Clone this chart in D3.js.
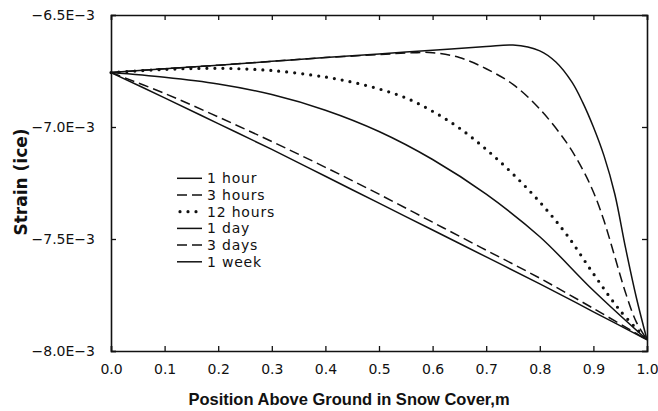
<!DOCTYPE html>
<html>
<head>
<meta charset="utf-8">
<script src="https://cdn.jsdelivr.net/npm/d3@7"></script>
<style>
  body { margin: 0; background: #fff; }
  svg { display: block; }
</style>
</head>
<body>
<div id="chart"></div>
<script>
// ---------- data ----------
const xTicks = [0.0, 0.1, 0.2, 0.3, 0.4, 0.5, 0.6, 0.7, 0.8, 0.9, 1.0];
const xTickLabels = ["0.0","0.1","0.2","0.3","0.4","0.5","0.6","0.7","0.8","0.9","1.0"];
const yTicks = [-6.5e-3, -7.0e-3, -7.5e-3, -8.0e-3];
const yTickLabels = ["\u22126.5E\u22123", "\u22127.0E\u22123", "\u22127.5E\u22123", "\u22128.0E\u22123"];

const seriesNames = ["1 hour", "3 hours", "12 hours", "1 day", "3 days", "1 week"];

const hour1X = [0, 0.1, 0.2, 0.3, 0.4, 0.5, 0.6, 0.7, 0.75, 0.8, 0.83, 0.86, 0.88, 0.9, 0.92, 0.94, 0.96, 0.98, 1.0];
const hour1Y = [-6.757, -6.740, -6.724, -6.707, -6.690, -6.674, -6.657, -6.641, -6.634, -6.660, -6.710, -6.800, -6.890, -7.000, -7.130, -7.300, -7.540, -7.760, -7.950];

const hours3X = [0, 0.1, 0.2, 0.3, 0.4, 0.5, 0.55, 0.6, 0.65, 0.7, 0.75, 0.8, 0.85, 0.88, 0.9, 0.92, 0.94, 0.96, 0.98, 1.0];
const hours3Y = [-6.757, -6.740, -6.724, -6.707, -6.690, -6.677, -6.670, -6.668, -6.690, -6.740, -6.810, -6.920, -7.070, -7.190, -7.290, -7.420, -7.580, -7.740, -7.870, -7.950];

const hours12X = [0, 0.1, 0.2, 0.3, 0.4, 0.45, 0.5, 0.55, 0.6, 0.65, 0.7, 0.75, 0.8, 0.85, 0.9, 0.95, 1.0];
const hours12Y = [-6.757, -6.743, -6.738, -6.748, -6.777, -6.800, -6.830, -6.870, -6.930, -7.005, -7.100, -7.210, -7.335, -7.480, -7.655, -7.820, -7.950];

const day1X = [0, 0.1, 0.2, 0.3, 0.4, 0.5, 0.6, 0.7, 0.8, 0.9, 1.0];
const day1Y = [-6.757, -6.778, -6.808, -6.855, -6.925, -7.020, -7.145, -7.300, -7.490, -7.730, -7.950];

const days3X = [0, 0.1, 0.2, 0.3, 0.4, 0.5, 0.6, 0.7, 0.8, 0.9, 1.0];
const days3Y = [-6.757, -6.850, -6.955, -7.065, -7.180, -7.300, -7.425, -7.550, -7.675, -7.810, -7.950];

const week1X = [0, 0.1, 0.2, 0.3, 0.4, 0.5, 0.6, 0.7, 0.8, 0.9, 1.0];
const week1Y = [-6.757, -6.870, -6.985, -7.100, -7.220, -7.340, -7.460, -7.580, -7.700, -7.825, -7.950];

// ---------- layout ----------
const W = 658, H = 411;
const margin = { left: 111, right: 11, top: 15, bottom: 60 };
const iw = W - margin.left - margin.right;
const ih = H - margin.top - margin.bottom;

const styles = [
  { dash: null, width: 1.5, cap: "butt" },
  { dash: "10,5", width: 1.5, cap: "butt" },
  { dash: "0,8", width: 3.2, cap: "round" },
  { dash: null, width: 1.5, cap: "butt" },
  { dash: "10,5", width: 1.5, cap: "butt" },
  { dash: null, width: 1.5, cap: "butt" }
];

const seriesX = [hour1X, hours3X, hours12X, day1X, days3X, week1X];
const seriesY = [hour1Y, hours3Y, hours12Y, day1Y, days3Y, week1Y];
const series = seriesNames.map((name, i) => ({
  name,
  style: styles[i],
  points: seriesX[i].map((x, j) => [x, seriesY[i][j] * 1e-3])
}));

const svg = d3.select("#chart").append("svg").attr("width", W).attr("height", H);
const g = svg.append("g").attr("transform", `translate(${margin.left},${margin.top})`);

const x = d3.scaleLinear().domain([0, 1]).range([0, iw]);
const y = d3.scaleLinear().domain([-6.5e-3, -8.0e-3]).range([0, ih]);

const ink = "#111";

// curves
const line = d3.line().x(d => x(d[0])).y(d => y(d[1])).curve(d3.curveCatmullRom.alpha(0.5));
series.forEach(s => {
  g.append("path")
    .datum(s.points)
    .attr("d", line)
    .attr("fill", "none")
    .attr("stroke", ink)
    .attr("stroke-width", s.style.width)
    .attr("stroke-linecap", s.style.cap)
    .attr("stroke-dasharray", s.style.dash);
});

// axes (inward ticks on all four sides)
const tickFont = "DejaVu Sans, sans-serif";
const bottomAxis = d3.axisBottom(x).tickValues(xTicks).tickSize(-5).tickPadding(13)
  .tickFormat((d, i) => xTickLabels[i]);
const topAxis = d3.axisTop(x).tickValues(xTicks).tickSize(-5).tickFormat("");
const leftAxis = d3.axisLeft(y).tickValues(yTicks).tickSize(-5).tickPadding(16)
  .tickFormat((d, i) => yTickLabels[i]);
const rightAxis = d3.axisRight(y).tickValues(yTicks).tickSize(-5).tickFormat("");

function styleAxis(sel) {
  sel.select(".domain").attr("stroke", ink).attr("stroke-width", 1.6);
  sel.selectAll(".tick line").attr("stroke", ink).attr("stroke-width", 1.3);
  sel.selectAll(".tick text").attr("fill", ink)
    .style("font-family", tickFont).style("font-size", "14px");
}

g.append("g").attr("transform", `translate(0,${ih})`).call(bottomAxis).call(styleAxis);
g.append("g").call(topAxis).call(styleAxis);
g.append("g").call(leftAxis).call(styleAxis);
g.append("g").attr("transform", `translate(${iw},0)`).call(rightAxis).call(styleAxis);

// axis titles
svg.append("text")
  .attr("x", 349).attr("y", 405)
  .attr("text-anchor", "middle")
  .style("font-family", "Liberation Sans, Arial, sans-serif")
  .style("font-weight", "bold").style("font-size", "16.5px")
  .attr("fill", ink)
  .text("Position Above Ground in Snow Cover,m");

svg.append("text")
  .attr("transform", "translate(27,182) rotate(-90)")
  .attr("text-anchor", "middle")
  .style("font-family", "DejaVu Sans, sans-serif")
  .style("font-weight", "bold").style("font-size", "17px")
  .attr("fill", ink)
  .text("Strain (ice)");

// legend
const legend = svg.append("g").attr("transform", "translate(177,183.3)");
series.forEach((s, i) => {
  const row = legend.append("g").attr("transform", `translate(0,${i * 16.7})`);
  row.append("line")
    .attr("x1", s.style.cap === "round" ? 3 : 0).attr("x2", 25)
    .attr("y1", -5).attr("y2", -5)
    .attr("stroke", ink)
    .attr("stroke-width", s.style.width)
    .attr("stroke-linecap", s.style.cap)
    .attr("stroke-dasharray", s.style.dash);
  row.append("text")
    .attr("x", 30).attr("y", 0)
    .style("font-family", tickFont).style("font-size", "14px")
    .style("letter-spacing", "0.8px")
    .attr("fill", ink)
    .text(s.name);
});
</script>
</body>
</html>
